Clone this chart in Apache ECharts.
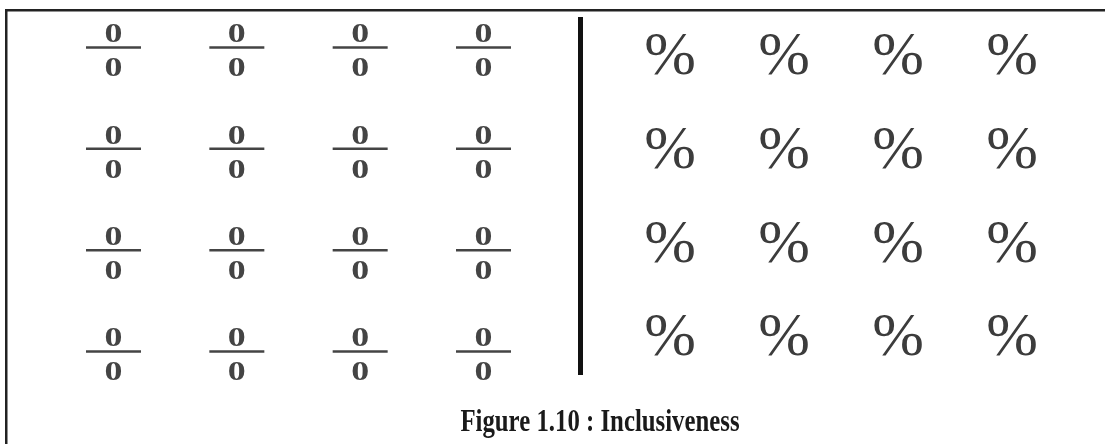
<!DOCTYPE html>
<html><head><meta charset="utf-8">
<script src="https://cdn.jsdelivr.net/npm/echarts@6/dist/echarts.min.js"></script>
<style>html,body{margin:0;padding:0;background:#fff}#c{width:1105px;height:444px}</style>
</head><body><div id="c"></div><script>
// ---- data ----
const fractionColumns = ['1', '2', '3', '4'];
const fractionRows = ['1', '2', '3', '4'];
const percentColumns = ['1', '2', '3', '4'];
const percentRows = ['1', '2', '3', '4'];
const numerators = [
  ['0', '0', '0', '0'],
  ['0', '0', '0', '0'],
  ['0', '0', '0', '0'],
  ['0', '0', '0', '0']
];
const denominators = [
  ['0', '0', '0', '0'],
  ['0', '0', '0', '0'],
  ['0', '0', '0', '0'],
  ['0', '0', '0', '0']
];
const percentSigns = [
  ['%', '%', '%', '%'],
  ['%', '%', '%', '%'],
  ['%', '%', '%', '%'],
  ['%', '%', '%', '%']
];
const figureTitle = 'Figure 1.10 : Inclusiveness';

// ---- build series data ----
const fractionData = [];
numerators.forEach((row, r) => row.forEach((n, c) => fractionData.push([c, r, n, denominators[r][c]])));
const percentData = [];
percentSigns.forEach((row, r) => row.forEach((s, c) => percentData.push([c, r, s])));

const digitColor = '#444';
const digitFont = 'bold 28px "Liberation Serif"';

const chart = echarts.init(document.getElementById('c'), null, { renderer: 'canvas' });
chart.setOption({
  animation: false,
  backgroundColor: '#fff',
  grid: [
    { left: 113.5, width: 370, top: 47.5, height: 304 },
    { left: 670, width: 342, top: 56, height: 281 }
  ],
  xAxis: [
    { type: 'category', gridIndex: 0, data: fractionColumns, boundaryGap: false, show: false },
    { type: 'category', gridIndex: 1, data: percentColumns, boundaryGap: false, show: false }
  ],
  yAxis: [
    { type: 'category', gridIndex: 0, data: fractionRows, boundaryGap: false, inverse: true, show: false },
    { type: 'category', gridIndex: 1, data: percentRows, boundaryGap: false, inverse: true, show: false }
  ],
  series: [
    {
      type: 'custom',
      xAxisIndex: 0, yAxisIndex: 0,
      data: fractionData,
      encode: { x: 0, y: 1 },
      renderItem: function (params, api) {
        const p = api.coord([api.value(0), api.value(1)]);
        const item = fractionData[params.dataIndex];
        return {
          type: 'group',
          children: [
            { type: 'text', x: p[0], y: p[1] - 12.5, scaleX: 1.28,
              style: { text: item[2], font: digitFont, fill: digitColor, align: 'center', verticalAlign: 'middle' } },
            { type: 'rect', shape: { x: p[0] - 27.5, y: p[1] - 1.25, width: 55, height: 2.5 },
              style: { fill: '#444' } },
            { type: 'text', x: p[0], y: p[1] + 21.5, scaleX: 1.28,
              style: { text: item[3], font: digitFont, fill: digitColor, align: 'center', verticalAlign: 'middle' } }
          ]
        };
      }
    },
    {
      type: 'custom',
      xAxisIndex: 1, yAxisIndex: 1,
      data: percentData,
      encode: { x: 0, y: 1 },
      renderItem: function (params, api) {
        const p = api.coord([api.value(0), api.value(1)]);
        const item = percentData[params.dataIndex];
        return {
          type: 'text', x: p[0], y: p[1] + 2,
          style: { text: item[2], font: '62px "Liberation Serif"', fill: '#3c3c3c',
                   align: 'center', verticalAlign: 'middle' }
        };
      }
    }
  ],
  graphic: [
    { type: 'rect', shape: { x: 5, y: 9, width: 1100, height: 2.5 }, style: { fill: '#222' } },
    { type: 'rect', shape: { x: 5, y: 9, width: 2.5, height: 440 }, style: { fill: '#222' } },
    { type: 'rect', shape: { x: 578, y: 17, width: 5, height: 358 }, style: { fill: '#111' } },
    { type: 'text', x: 600, y: 423, scaleX: 0.8,
      style: { text: figureTitle, font: 'bold 31px "Liberation Serif"', fill: '#1a1a1a', align: 'center', verticalAlign: 'middle' } }
  ]
});
</script></body></html>
